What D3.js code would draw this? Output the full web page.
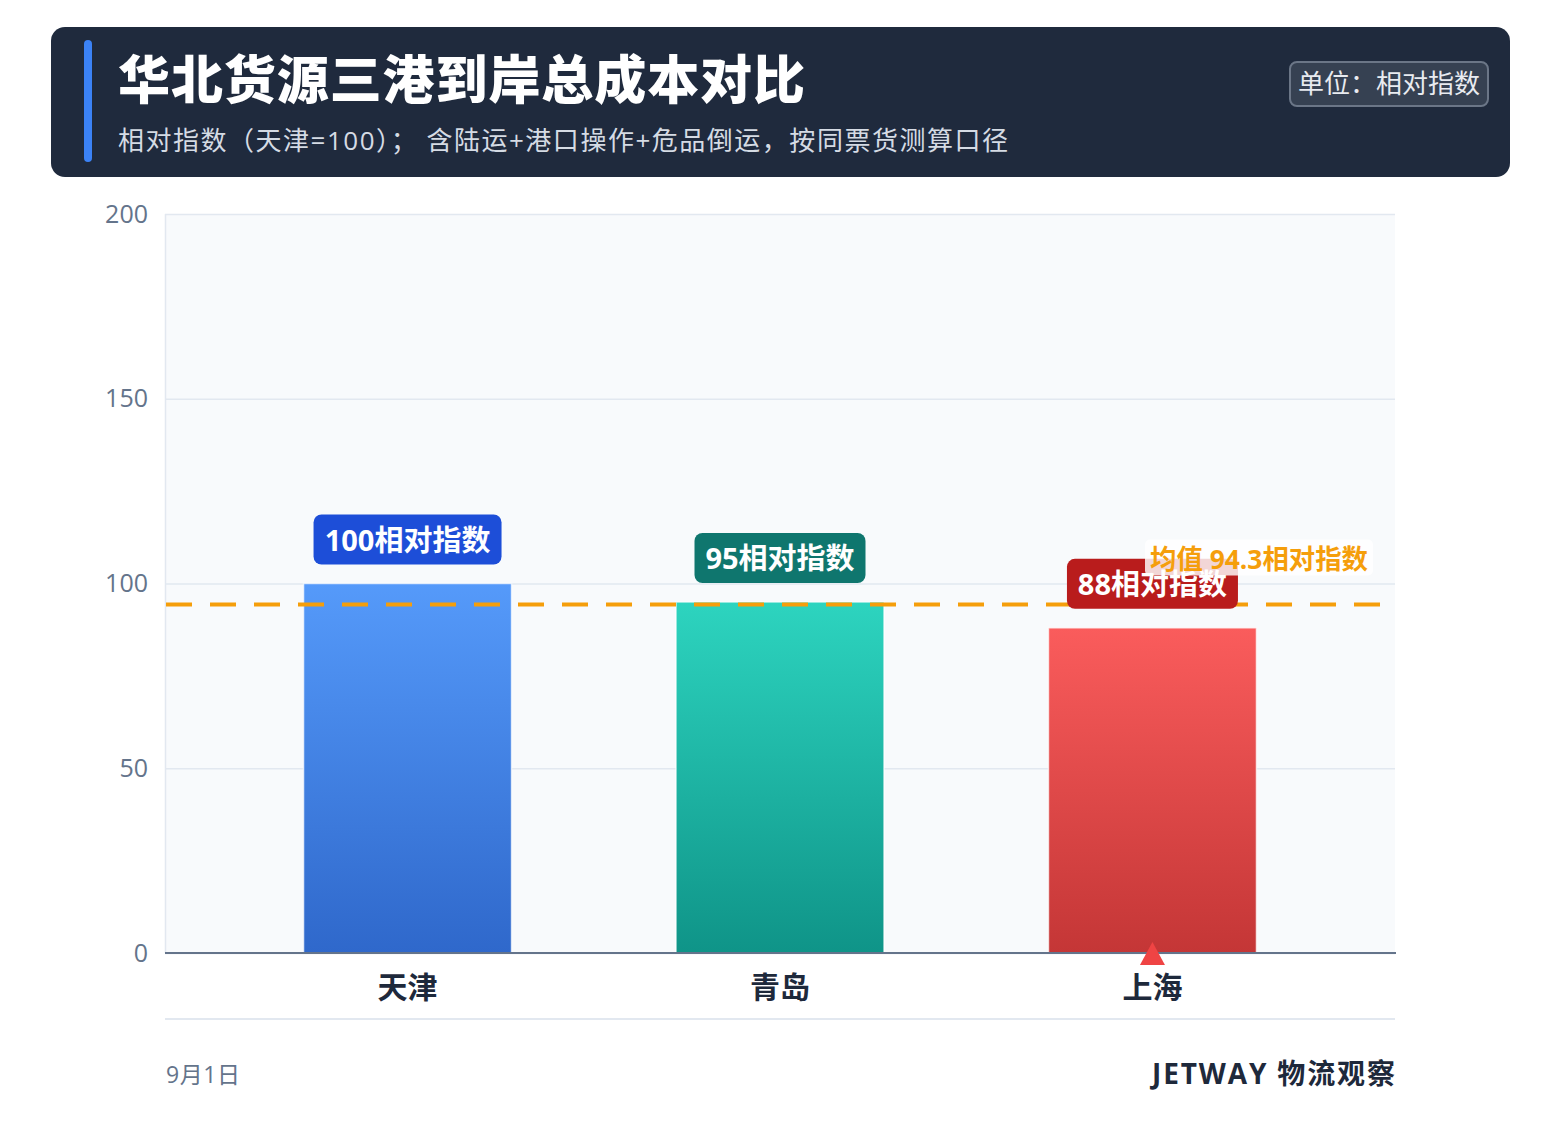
<!DOCTYPE html>
<html><head><meta charset="utf-8">
<script src="https://cdn.jsdelivr.net/npm/d3@7"></script>
<style>
html,body{margin:0;padding:0;background:#fff;}
svg{display:block;font-family:"Open Sans","Noto Sans CJK SC","Noto Sans",sans-serif;}
</style></head>
<body>
<script>
const categories = ["天津", "青岛", "上海"];
const values = [100, 95, 88];
const unitSuffix = "相对指数";
const yTicks = [0, 50, 100, 150, 200];
const averageValue = 94.3;
const titleText = "华北货源三港到岸总成本对比";
const subtitleText = "相对指数（天津=100）； 含陆运+港口操作+危品倒运，按同票货测算口径";
const unitText = "单位：相对指数";
const dateText = "9月1日";
const brandText = "JETWAY 物流观察";
const highlighted = "上海";

const W = 1561, H = 1145;
const svg = d3.select("body").append("svg").attr("width", W).attr("height", H);
const defs = svg.append("defs");

const grads = [
  {id:"g0", top:"#559afa", bot:"#2f68cb", badge:"#1d4ed8"},
  {id:"g1", top:"#2dd4bf", bot:"#0f9488", badge:"#0f766e"},
  {id:"g2", top:"#fa5c5c", bot:"#c43636", badge:"#b91c1c"}
];
grads.forEach(g => {
  const lg = defs.append("linearGradient").attr("id", g.id).attr("x1",0).attr("y1",0).attr("x2",0).attr("y2",1);
  lg.append("stop").attr("offset","0%").attr("stop-color", g.top);
  lg.append("stop").attr("offset","100%").attr("stop-color", g.bot);
});

// Header
svg.append("rect").attr("x",51).attr("y",27).attr("width",1459).attr("height",150).attr("rx",14).attr("fill","#1f2a3d");
svg.append("rect").attr("x",84).attr("y",40).attr("width",8).attr("height",122).attr("rx",4).attr("fill","#3b82f6");
svg.append("text").attr("x",118).attr("y",99).attr("fill","#ffffff").attr("font-size",52).attr("font-weight",900)
  .attr("font-family","'Noto Sans CJK SC',sans-serif")
  .attr("textLength",687).attr("lengthAdjust","spacing").text(titleText);
svg.append("text").attr("x",118).attr("y",150).attr("fill","#d5dbe4").attr("font-size",26)
  .attr("textLength",890).attr("lengthAdjust","spacing").text(subtitleText);
svg.append("rect").attr("x",1290).attr("y",62).attr("width",198).attr("height",44).attr("rx",7)
  .attr("fill","#364152").attr("stroke","#6b7687").attr("stroke-width",2);
svg.append("text").attr("x",1389).attr("y",93).attr("text-anchor","middle").attr("fill","#e8ebf0").attr("font-size",26).text(unitText);

// Plot
const L = 165, R = 1395, T = 214, B = 953;
const y = d3.scaleLinear().domain([0, 200]).range([B, T]);
const x = d3.scaleBand().domain(categories).range([L, R]).paddingInner(0.4416).paddingOuter(0.372);

svg.append("rect").attr("x",L).attr("y",T).attr("width",R-L).attr("height",B-T).attr("fill","#f8fafc");
svg.append("line").attr("x1",L+0.5).attr("x2",L+0.5).attr("y1",T).attr("y2",B).attr("stroke","#e2e8f0").attr("stroke-width",1.5);

const gy = svg.append("g").attr("transform",`translate(${L},0)`)
  .call(d3.axisLeft(y).tickValues(yTicks).tickSize(-(R-L)).tickPadding(17));
gy.select(".domain").remove();
gy.selectAll(".tick line").attr("stroke","#e2e8f0").attr("stroke-width",1.5);
gy.selectAll(".tick text").attr("fill","#64748b").attr("font-size",25).attr("font-family","'Open Sans','Noto Sans',sans-serif").attr("dy","0.32em");

// Bars
svg.selectAll("rect.bar").data(categories).enter().append("rect").attr("class","bar")
  .attr("x", d => x(d)).attr("width", x.bandwidth())
  .attr("y", (d,i) => y(values[i])).attr("height", (d,i) => B - y(values[i]))
  .attr("fill", (d,i) => `url(#${grads[i].id})`)
  .attr("stroke","#ffffff").attr("stroke-opacity",0.7).attr("stroke-width",1.5);

// Axis line
svg.append("line").attr("x1",L).attr("x2",R+1).attr("y1",B).attr("y2",B).attr("stroke","#64748b").attr("stroke-width",2);

// Average line
svg.append("line").attr("x1",L+1).attr("x2",R).attr("y1",y(averageValue)).attr("y2",y(averageValue))
  .attr("stroke","#f59e0b").attr("stroke-width",4).attr("stroke-dasharray","26,18");

// Value badges
const badgeW = v => String(v).length === 3 ? 188 : 171;
const badges = svg.selectAll("g.badge").data(categories).enter().append("g").attr("class","badge");
badges.append("rect")
  .attr("x", (d,i) => x(d) + x.bandwidth()/2 - badgeW(values[i])/2)
  .attr("y", (d,i) => y(values[i]) - 69).attr("width", (d,i) => badgeW(values[i])).attr("height",50).attr("rx",8)
  .attr("fill", (d,i) => grads[i].badge);

// Average label
const avgY = y(averageValue);
svg.append("rect").attr("x",1145).attr("y",avgY-65).attr("width",228).attr("height",36).attr("rx",5)
  .attr("fill","#ffffff").attr("fill-opacity",0.82);
svg.append("text").attr("x",1150).attr("y",avgY-36).attr("fill","#f59e0b").attr("font-size",27).attr("font-weight",700)
  .attr("textLength",218).attr("lengthAdjust","spacingAndGlyphs")
  .text(`均值 ${averageValue}${unitSuffix}`);

badges.append("text")
  .attr("x", d => x(d) + x.bandwidth()/2).attr("y", (d,i) => y(values[i]) - 33)
  .attr("text-anchor","middle").attr("fill","#ffffff").attr("font-size",29).attr("font-weight",700)
  .text((d,i) => values[i] + unitSuffix);

// Highlight triangle
const hx = x(highlighted) + x.bandwidth()/2;
svg.append("path").attr("d", d3.line()([[hx, B-11],[hx+12.5, B+12],[hx-12.5, B+12]]) + "Z").attr("fill","#ef4444");

// Category labels
svg.selectAll("text.cat").data(categories).enter().append("text").attr("class","cat")
  .attr("x", d => x(d) + x.bandwidth()/2).attr("y", 998).attr("text-anchor","middle")
  .attr("fill","#1e293b").attr("font-size",30).attr("font-weight",700).text(d => d);

// Footer
svg.append("line").attr("x1",L).attr("x2",R).attr("y1",1019).attr("y2",1019).attr("stroke","#e2e8f0").attr("stroke-width",2);
svg.append("text").attr("x",166).attr("y",1083).attr("fill","#64748b").attr("font-size",23)
  .attr("textLength",74).attr("lengthAdjust","spacing").text(dateText);
svg.append("text").attr("x",1152).attr("y",1084).attr("fill","#1e293b").attr("font-size",28).attr("font-weight",700)
  .attr("textLength",243).attr("lengthAdjust","spacing").text(brandText);
</script>
</body></html>
